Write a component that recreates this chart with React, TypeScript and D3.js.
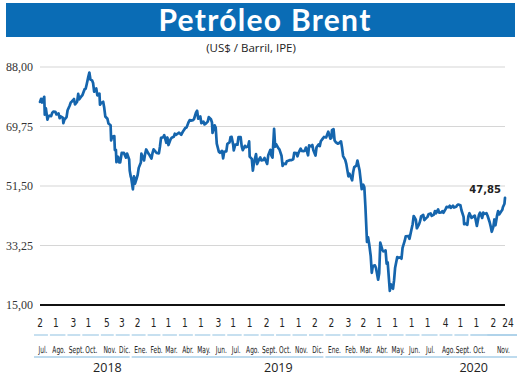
import React from "react";
import * as d3 from "d3";

const dates: string[] = [
"2018-07-02","2018-07-04","2018-07-06","2018-07-10","2018-07-11","2018-07-13","2018-07-16","2018-07-18","2018-07-20","2018-07-23","2018-07-25","2018-07-27","2018-07-31",
"2018-08-02","2018-08-06","2018-08-08","2018-08-10","2018-08-14","2018-08-15","2018-08-17","2018-08-21","2018-08-23","2018-08-27","2018-08-29","2018-08-31",
"2018-09-04","2018-09-06","2018-09-10","2018-09-12","2018-09-14","2018-09-18","2018-09-20","2018-09-24","2018-09-26","2018-09-28",
"2018-10-01","2018-10-03","2018-10-05","2018-10-08","2018-10-10","2018-10-12","2018-10-16","2018-10-18","2018-10-22","2018-10-23","2018-10-25","2018-10-29","2018-10-31",
"2018-11-02","2018-11-06","2018-11-08","2018-11-12","2018-11-13","2018-11-15","2018-11-19","2018-11-20","2018-11-22","2018-11-23","2018-11-26","2018-11-28","2018-11-30",
"2018-12-03","2018-12-05","2018-12-07","2018-12-11","2018-12-13","2018-12-17","2018-12-18","2018-12-20","2018-12-21","2018-12-24","2018-12-26","2018-12-28","2018-12-31",
"2019-01-02","2019-01-04","2019-01-08","2019-01-09","2019-01-11","2019-01-14","2019-01-16","2019-01-18","2019-01-22","2019-01-24","2019-01-28","2019-01-30",
"2019-02-01","2019-02-05","2019-02-07","2019-02-11","2019-02-13","2019-02-15","2019-02-19","2019-02-21","2019-02-25","2019-02-27",
"2019-03-01","2019-03-05","2019-03-07","2019-03-11","2019-03-13","2019-03-15","2019-03-19","2019-03-21","2019-03-25","2019-03-27","2019-03-29",
"2019-04-02","2019-04-04","2019-04-08","2019-04-10","2019-04-12","2019-04-16","2019-04-18","2019-04-22","2019-04-24","2019-04-26","2019-04-30",
"2019-05-02","2019-05-06","2019-05-08","2019-05-10","2019-05-14","2019-05-16","2019-05-20","2019-05-22","2019-05-23","2019-05-27","2019-05-29","2019-05-31",
"2019-06-04","2019-06-06","2019-06-10","2019-06-12","2019-06-14","2019-06-18","2019-06-20","2019-06-24","2019-06-26","2019-06-28",
"2019-07-01","2019-07-02","2019-07-05","2019-07-09","2019-07-11","2019-07-15","2019-07-17","2019-07-19","2019-07-23","2019-07-25","2019-07-29","2019-07-31",
"2019-08-01","2019-08-05","2019-08-07","2019-08-09","2019-08-13","2019-08-15","2019-08-19","2019-08-21","2019-08-23","2019-08-27","2019-08-29",
"2019-09-03","2019-09-05","2019-09-09","2019-09-11","2019-09-13","2019-09-16","2019-09-18","2019-09-20","2019-09-24","2019-09-26","2019-09-30",
"2019-10-02","2019-10-04","2019-10-08","2019-10-10","2019-10-14","2019-10-16","2019-10-18","2019-10-22","2019-10-24","2019-10-28","2019-10-30",
"2019-11-01","2019-11-05","2019-11-07","2019-11-11","2019-11-13","2019-11-15","2019-11-19","2019-11-21","2019-11-25","2019-11-27","2019-11-29",
"2019-12-03","2019-12-05","2019-12-09","2019-12-11","2019-12-13","2019-12-17","2019-12-19","2019-12-23","2019-12-27","2019-12-31",
"2020-01-02","2020-01-03","2020-01-06","2020-01-08","2020-01-10","2020-01-14","2020-01-16","2020-01-20","2020-01-22","2020-01-24","2020-01-28","2020-01-30",
"2020-02-03","2020-02-05","2020-02-07","2020-02-10","2020-02-12","2020-02-14","2020-02-18","2020-02-20","2020-02-24","2020-02-26","2020-02-28",
"2020-03-02","2020-03-04","2020-03-06","2020-03-09","2020-03-11","2020-03-13","2020-03-16","2020-03-18","2020-03-20","2020-03-24","2020-03-26","2020-03-30",
"2020-04-01","2020-04-03","2020-04-07","2020-04-09","2020-04-13","2020-04-15","2020-04-17","2020-04-21","2020-04-23","2020-04-27","2020-04-29",
"2020-05-01","2020-05-05","2020-05-07","2020-05-11","2020-05-13","2020-05-15","2020-05-19","2020-05-21","2020-05-26","2020-05-28",
"2020-06-01","2020-06-03","2020-06-05","2020-06-09","2020-06-11","2020-06-15","2020-06-17","2020-06-19","2020-06-23","2020-06-25","2020-06-29",
"2020-07-01","2020-07-03","2020-07-07","2020-07-09","2020-07-13","2020-07-15","2020-07-17","2020-07-21","2020-07-23","2020-07-27","2020-07-29","2020-07-31",
"2020-08-04","2020-08-06","2020-08-10","2020-08-12","2020-08-14","2020-08-18","2020-08-20","2020-08-24","2020-08-26","2020-08-28",
"2020-09-01","2020-09-03","2020-09-07","2020-09-08","2020-09-10","2020-09-14","2020-09-16","2020-09-18","2020-09-22","2020-09-24","2020-09-28","2020-09-30",
"2020-10-02","2020-10-06","2020-10-08","2020-10-12","2020-10-14","2020-10-16","2020-10-20","2020-10-22","2020-10-26","2020-10-28","2020-10-30",
"2020-11-02","2020-11-04","2020-11-06","2020-11-09","2020-11-11","2020-11-13","2020-11-17","2020-11-19","2020-11-20","2020-11-23","2020-11-24"
];

const prices: number[] = [
77.30,78.24,77.11,78.86,73.40,75.33,71.84,72.90,73.07,72.91,73.93,74.29,74.25,
73.45,73.75,72.28,72.81,72.46,70.76,71.83,72.63,74.73,76.21,77.14,77.42,
78.17,76.50,77.37,79.74,78.09,79.03,79.40,81.20,81.34,82.72,
84.98,86.29,84.16,83.91,83.09,80.43,81.41,79.29,79.83,76.44,76.89,77.34,75.47,
72.83,72.13,70.65,70.12,65.47,66.62,66.79,62.53,62.60,58.80,60.48,58.76,58.71,
61.69,61.56,61.67,60.20,61.45,59.61,56.26,54.35,53.82,50.47,54.47,52.20,53.80,
54.91,57.06,58.72,61.44,60.48,59.35,61.32,62.70,61.50,61.09,59.93,61.65,
62.75,61.98,61.63,61.51,63.61,66.25,66.45,67.07,64.76,66.39,
64.07,65.86,66.30,66.58,67.55,67.16,67.61,67.86,67.21,67.83,68.39,
69.37,69.40,71.10,71.73,71.55,71.72,71.97,74.04,74.57,72.15,72.80,
70.75,71.24,70.37,70.62,71.24,72.62,71.97,70.99,67.76,70.11,69.45,64.49,
61.97,61.67,62.29,59.97,62.01,62.14,64.45,64.86,66.49,66.55,
64.06,62.40,64.23,64.16,66.52,66.48,63.66,62.47,63.83,63.39,63.71,65.17,
60.50,59.81,56.23,58.53,61.30,58.23,59.74,60.30,59.34,59.51,60.08,
58.26,60.95,62.59,60.81,60.22,69.02,63.60,64.28,63.10,62.74,60.78,
57.69,58.37,58.24,59.10,59.35,59.42,59.42,59.70,61.67,61.57,60.61,
61.69,62.96,62.29,62.18,62.37,63.30,60.91,63.97,63.65,64.06,62.43,
60.82,63.39,64.25,63.72,65.22,66.10,66.54,66.39,68.16,66.00,
66.25,68.60,68.91,65.44,64.98,64.49,64.62,65.20,63.21,60.69,59.51,58.29,
54.45,55.28,54.47,53.27,55.79,57.32,57.75,59.31,56.30,53.43,50.52,
51.90,51.13,45.27,34.36,35.79,33.85,30.05,24.88,26.98,27.15,26.34,22.76,
24.74,34.11,31.87,31.48,31.74,27.69,28.08,19.33,21.33,19.99,22.54,
26.44,29.72,29.46,29.63,29.19,32.50,34.65,36.06,36.17,35.29,
38.32,39.79,42.30,41.18,38.55,39.72,40.71,42.19,42.63,41.05,41.71,
42.03,42.80,43.08,42.35,42.72,43.79,43.14,44.32,43.31,43.41,43.75,43.30,
44.43,45.09,44.99,45.43,44.80,45.46,44.90,45.13,45.64,45.81,
45.58,44.07,42.01,39.78,40.06,39.61,42.22,43.15,41.72,41.94,42.43,40.95,
39.27,42.65,43.34,41.72,43.32,42.93,43.16,42.46,40.46,39.12,37.46,
38.97,41.23,39.45,42.40,43.80,42.78,43.75,44.20,44.96,46.06,47.85
];

const yTicks: number[] = [15, 33.25, 51.5, 69.75, 88];

const tickDates: string[] = [
"2018-07-02","2018-08-01","2018-09-03","2018-10-01","2018-11-05","2018-12-03",
"2019-01-02","2019-02-01","2019-03-01","2019-04-01","2019-05-01","2019-06-03",
"2019-07-01","2019-08-01","2019-09-02","2019-10-01","2019-11-01","2019-12-02",
"2020-01-02","2020-02-03","2020-03-02","2020-04-01","2020-05-01","2020-06-01",
"2020-07-01","2020-08-04","2020-09-01","2020-10-01","2020-11-02","2020-11-24"
];

const monthNames: string[] = [
"Jul.","Ago.","Sept.","Oct.","Nov.","Dic.",
"Ene.","Feb.","Mar.","Abr.","May.","Jun.","Jul.","Ago.","Sept.","Oct.","Nov.","Dic.",
"Ene.","Feb.","Mar.","Abr.","May.","Jun.","Jul.","Ago.","Sept.","Oct.","Nov."
];

const years: string[] = ["2018", "2019", "2020"];
const yearLabelDates: string[] = ["2018-11-06", "2019-09-24", "2020-09-26"];
const yearStartIdx: number[] = [0, 6, 18];

const lastLabel = "47,85";

const parse = d3.timeParse("%Y-%m-%d");

export default function App() {
  const W = 520, H = 377;
  const left = 40, right = 505, top = 67, bottom = 305;
  const blue = "#0a6cb5";
  const lineBlue = "#1565ad";
  const lightBlue = "#a9cfe8";
  const sans = "'DejaVu Sans', sans-serif";

  const data = dates.map((d, i) => ({ date: parse(d) as Date, v: prices[i] }));
  const x = d3.scaleTime()
    .domain([parse(dates[0]) as Date, parse(dates[dates.length - 1]) as Date])
    .range([left, right]);
  const y = d3.scaleLinear().domain([15, 88]).range([bottom, top]);
  const line = d3.line<{ date: Date; v: number }>()
    .x((d) => x(d.date))
    .y((d) => y(d.v));

  const tks = tickDates.map((d) => x(parse(d) as Date));
  const last = data[data.length - 1];

  return (
    <svg width={W} height={H} style={{ display: "block", position: "absolute", left: 0, top: 0 }}>
      <rect x={0} y={0} width={W} height={H} fill="#fff" />
      <rect x={6} y={3} width={509} height={34} fill={blue} />
      <text x={265} y={30.5} textAnchor="middle" fill="#fff"
        style={{ fontFamily: "Lato, 'Open Sans', sans-serif", fontWeight: 700, fontSize: 30, letterSpacing: 1.3 }}>
        Petróleo Brent
      </text>
      <text x={251} y={52} textAnchor="middle" fill="#222"
        style={{ fontFamily: "'Open Sans', sans-serif", fontSize: 11.5 }}>
        (US$ / Barril, IPE)
      </text>

      {yTicks.map((t) => (
        <g key={t}>
          {t > 15 && (
            <line x1={left} x2={right} y1={y(t)} y2={y(t)} stroke="#d6d6d6" strokeWidth={1.2} />
          )}
          <text x={33} y={y(t) + 4} textAnchor="end" fill="#333"
            style={{ fontFamily: "'Liberation Serif', serif", fontSize: 12 }}>
            {d3.format(".2f")(t).replace(".", ",")}
          </text>
        </g>
      ))}

      <path d={line(data) || ""} fill="none" stroke={lineBlue} strokeWidth={2.7}
        strokeLinejoin="round" strokeLinecap="round" />

      <line x1={left} x2={right} y1={bottom} y2={bottom} stroke="#111" strokeWidth={2} />

      <text x={501} y={y(last.v) - 5} textAnchor="end" fill="#222"
        style={{ fontFamily: sans, fontWeight: 700, fontSize: 10 }}>
        {lastLabel}
      </text>

      {tickDates.map((d, i) => (
        <text key={"d" + i}
          transform={`translate(${tks[i] + (i === tickDates.length - 1 ? 3 : 0)},327) scale(0.72,1)`}
          textAnchor="middle" fill="#222"
          style={{ fontFamily: sans, fontSize: 12.5 }}>
          {parse(d)!.getDate()}
        </text>
      ))}

      {monthNames.map((m, i) => {
        const x0 = tks[i] - 6;
        const x1 = i + 1 < monthNames.length - 1 ? tks[i + 1] - 8 : 517;
        const cx = i === monthNames.length - 1 ? tks[i] + 10 : tks[i] + 3;
        return (
          <g key={"m" + i}>
            <line x1={x0} x2={x1} y1={335} y2={335} stroke={lightBlue} strokeWidth={1.3} />
            <text transform={`translate(${cx},353) scale(0.62,1)`} textAnchor="middle" fill="#222"
              style={{ fontFamily: sans, fontSize: 9.5 }}>
              {m}
            </text>
          </g>
        );
      })}

      {years.map((yr, i) => {
        const x0 = tks[yearStartIdx[i]] - 6;
        const x1 = i + 1 < years.length ? tks[yearStartIdx[i + 1]] - 8 : 517;
        return (
          <g key={yr}>
            <line x1={x0} x2={x1} y1={357} y2={357} stroke={lightBlue} strokeWidth={1.3} />
            <text x={x(parse(yearLabelDates[i]) as Date)} y={372} textAnchor="middle" fill="#222"
              style={{ fontFamily: "'Open Sans', sans-serif", fontSize: 12.5 }}>
              {yr}
            </text>
          </g>
        );
      })}
    </svg>
  );
}
